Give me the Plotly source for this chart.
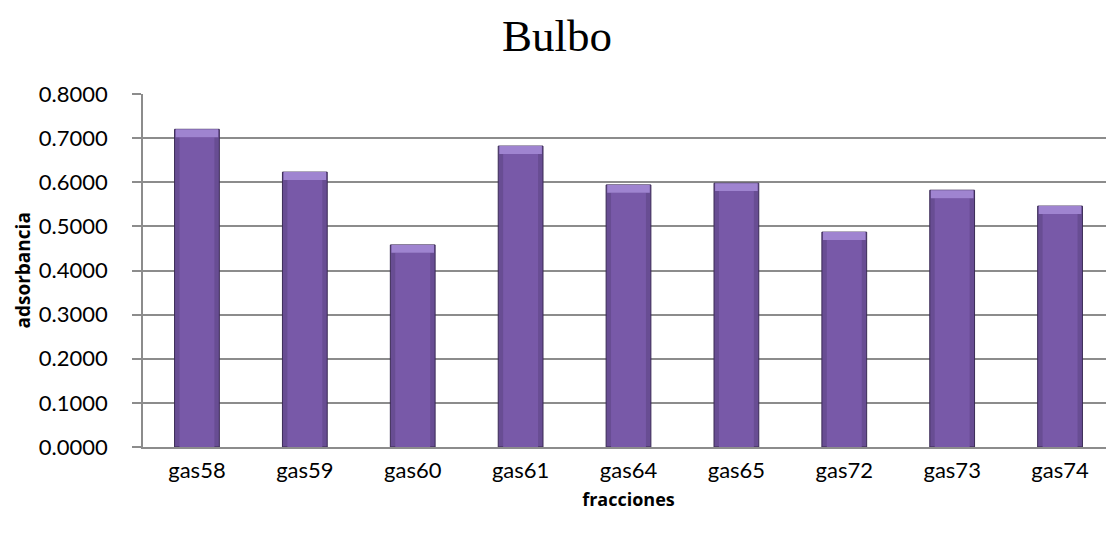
import plotly.graph_objects as go

categories = ["gas58", "gas59", "gas60", "gas61", "gas64", "gas65", "gas72", "gas73", "gas74"]
absorbance = [0.720, 0.623, 0.458, 0.682, 0.594, 0.598, 0.487, 0.582, 0.546]
y_ticks = [0.0, 0.1, 0.2, 0.3, 0.4, 0.5, 0.6, 0.7, 0.8]
y_tick_labels = ["0.0000", "0.1000", "0.2000", "0.3000", "0.4000", "0.5000", "0.6000", "0.7000", "0.8000"]

bevel = 0.018
bar_w = 0.415

fig = go.Figure()
# outer (darker) bar body
fig.add_trace(go.Bar(
    x=categories, y=absorbance, width=bar_w,
    marker=dict(color="#684d93", line=dict(color="#3a2a55", width=1)),
    hoverinfo="x+y", showlegend=False,
))
# lighter center of the bar (gradient imitation)
fig.add_trace(go.Bar(
    x=categories, y=[v - bevel for v in absorbance], width=bar_w * 0.78,
    marker=dict(color="#7859a8", line=dict(width=0)),
    hoverinfo="skip", showlegend=False,
))
# top bevel highlight
fig.add_trace(go.Bar(
    x=categories, y=[bevel] * len(absorbance),
    base=[v - bevel for v in absorbance], width=bar_w * 0.95,
    marker=dict(color="#9f84d0", line=dict(width=0)),
    hoverinfo="skip", showlegend=False,
))

tick_font = dict(family="Lato, 'Open Sans', sans-serif", size=22, color="#000000")
title_font = dict(family="'Open Sans', Lato, sans-serif", size=18, color="#000000")

fig.update_layout(
    width=1106, height=526,
    margin=dict(l=135, r=0, t=86, b=87),
    paper_bgcolor="white", plot_bgcolor="white",
    barmode="overlay",
    title=dict(
        text="Bulbo",
        font=dict(family="'Liberation Serif', 'DejaVu Serif', serif", size=45, color="#000000"),
        x=(557 - 8) / 1106, xanchor="center", xref="container",
        y=1 - 27 / 526, yref="container", yanchor="middle",
    ),
    xaxis=dict(
        categoryorder="array", categoryarray=categories,
        tickfont=tick_font,
        showgrid=False, showline=True, linecolor="#8c8c8c", linewidth=1.5,
        ticks="", ticklabelstandoff=3,
        title=dict(text="<b>fracciones</b>", font=title_font, standoff=11),
    ),
    yaxis=dict(
        range=[0, 0.8], tickvals=y_ticks, ticktext=y_tick_labels,
        tickfont=tick_font,
        showgrid=True, gridcolor="#8c8c8c", gridwidth=1.5,
        showline=True, linecolor="#8c8c8c", linewidth=1.5,
        ticks="outside", ticklen=9, tickcolor="#8c8c8c", tickwidth=1.5,
        ticklabelstandoff=20, zeroline=False,
    ),
    annotations=[dict(
        text="<b>adsorbancia</b>", textangle=-90,
        font=dict(family="'Open Sans', Lato, sans-serif", size=19, color="#000000"),
        xref="paper", yref="paper", x=0, y=0.5,
        xanchor="center", yanchor="middle", xshift=-121, showarrow=False,
    )],
)

fig.write_html("out.html")
